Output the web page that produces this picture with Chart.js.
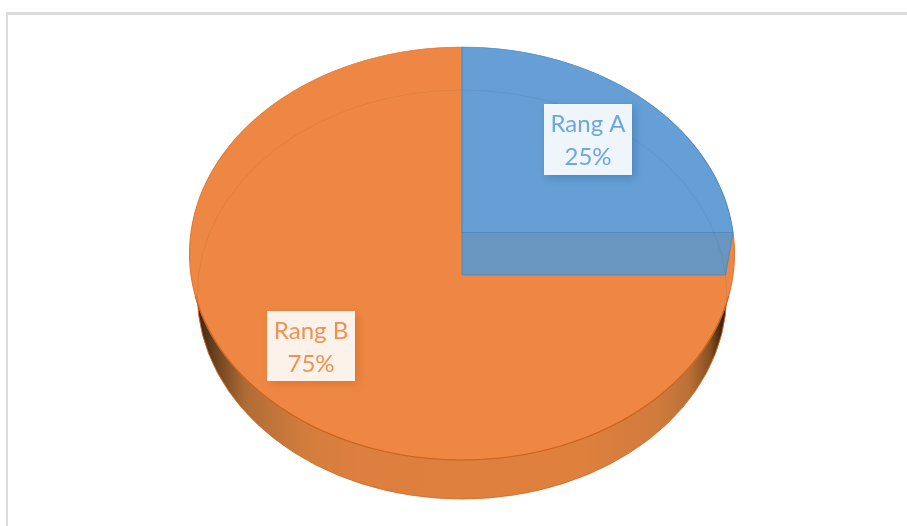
<!DOCTYPE html>
<html>
<head>
<meta charset="utf-8">
<style>
html,body{margin:0;padding:0;background:#fff;width:907px;height:526px;overflow:hidden}
#frame{position:absolute;left:6px;top:12px;width:901px;height:514px;border-top:3px solid #dcdcdc;border-left:2px solid #dcdcdc;box-sizing:border-box}
#wrap{position:absolute;left:0;top:0;width:907px;height:526px}
</style>
<script src="https://cdn.jsdelivr.net/npm/chart.js@4/dist/chart.umd.min.js"></script>
</head>
<body>
<div id="frame"></div>
<div id="wrap"><canvas id="c" width="907" height="526"></canvas></div>
<script>
const categories = ['Rang A', 'Rang B'];
const values = [25, 75];
const sliceColors = ['#659FD5', '#EE8743'];
const edgeColors = ['#4C8AC6', '#E07A36'];

// Perspective view of the disc: hub position, half width at the hub, depth behind and in front of the hub
function view(cx, cy, a, up, down) {
  const k = -(down / up - 1) / (down / up + 1);
  const b = down * (1 + k);
  const top = cy - up, bottom = cy + down;
  const ecy = (top + bottom) / 2, ery = (bottom - top) / 2;
  const erx = a / Math.sqrt(1 - Math.pow((cy - ecy) / ery, 2));
  return {cx, cy, a, k, b, top, bottom, ecy, ery, erx};
}
const topFace = view(462, 232.5, 271, 185.5, 227.5);
const baseFace = view(462, 275, 263.5, 185, 224);
const labelBoxes = [
  {x: 544, y: 104, w: 88, h: 71, color: '#6FA6DC', shadow: 'rgba(40,90,150,0.4)', line2: 53},
  {x: 267, y: 311, w: 88, h: 70, color: '#F0914F', shadow: 'rgba(190,90,20,0.4)', line2: 53}
];

const disc3d = {
  id: 'disc3d',
  beforeDatasetsDraw(chart) {
    const ctx = chart.ctx, arcs = chart.getDatasetMeta(0).data;
    const W = chart.width;
    const R = arcs[0].outerRadius, ax = arcs[0].x, ay = arcs[0].y;

    // Wall
    const g = ctx.createLinearGradient(baseFace.cx - baseFace.a, 0, baseFace.cx + baseFace.a, 0);
    g.addColorStop(0, '#3d2510');
    g.addColorStop(0.03, '#6a4020');
    g.addColorStop(0.09, '#b06c35');
    g.addColorStop(0.2, '#d27d3d');
    g.addColorStop(0.3, '#dd7f3e');
    g.addColorStop(0.72, '#e0803d');
    g.addColorStop(0.87, '#d07c3d');
    g.addColorStop(0.93, '#bb7036');
    g.addColorStop(0.97, '#8a5022');
    g.addColorStop(0.99, '#46290f');
    g.addColorStop(1, '#2e1b0a');
    ctx.beginPath();
    ctx.ellipse(baseFace.cx, baseFace.ecy, baseFace.erx, baseFace.ery, 0, 0, 2 * Math.PI);
    ctx.fillStyle = g;
    ctx.fill();
    ctx.strokeStyle = 'rgba(214,110,40,0.9)';
    ctx.lineWidth = 1;
    ctx.stroke();

    // Top face: the library's arcs, row by row through the perspective
    const f = topFace;
    for (let y = Math.floor(f.top) - 2; y < Math.ceil(f.bottom) + 2; y++) {
      const t = (y + 0.5 - f.cy) / f.b;
      const v = t / (1 - f.k * t);
      const d = 1 + f.k * v;
      ctx.save();
      ctx.beginPath();
      ctx.rect(0, y, W, 1);
      ctx.clip();
      ctx.translate(f.cx, y + 0.5);
      ctx.scale(f.a / (R * d), f.b / (R * d * d));
      ctx.translate(-ax, -(ay + v * R));
      [1, 0].forEach(i => arcs[i].draw(ctx));
      ctx.restore();
    }

    // Rim of the top face in front
    ctx.save();
    ctx.beginPath();
    ctx.rect(0, 296, W, chart.height);
    ctx.clip();
    ctx.beginPath();
    ctx.ellipse(f.cx, f.ecy, f.erx, f.ery, 0, 0, Math.PI);
    ctx.strokeStyle = '#C9641E';
    ctx.lineWidth = 1.2;
    ctx.stroke();
    ctx.restore();

    // Inner cut side of slice A
    const xEnd = Math.cos(arcs[0].endAngle);
    ctx.beginPath();
    ctx.moveTo(f.cx, f.cy);
    ctx.lineTo(f.cx + f.a * xEnd, f.cy);
    ctx.lineTo(baseFace.cx + baseFace.a * xEnd, baseFace.cy);
    ctx.lineTo(baseFace.cx, baseFace.cy);
    ctx.closePath();
    ctx.fillStyle = '#6896C1';
    ctx.fill();
    ctx.strokeStyle = '#5289BE';
    ctx.lineWidth = 1;
    ctx.stroke();

    // Back of the disc seen through the surface
    ctx.save();
    ctx.beginPath();
    ctx.rect(0, 0, W, 300);
    ctx.clip();
    ctx.beginPath();
    ctx.ellipse(baseFace.cx, baseFace.ecy, baseFace.erx, baseFace.ery, 0, 0, 2 * Math.PI);
    ctx.strokeStyle = 'rgba(70,60,70,0.1)';
    ctx.lineWidth = 1;
    ctx.stroke();
    ctx.restore();
    return false;
  },
  afterDraw(chart) {
    const ctx = chart.ctx, total = values.reduce((s, v) => s + v, 0);
    labelBoxes.forEach((b, i) => {
      // soft shadow, kept outside the translucent box
      ctx.save();
      ctx.beginPath();
      ctx.rect(0, 0, chart.width, chart.height);
      ctx.rect(b.x, b.y, b.w, b.h);
      ctx.clip('evenodd');
      ctx.shadowColor = b.shadow;
      ctx.shadowBlur = 9;
      ctx.shadowOffsetX = 3;
      ctx.shadowOffsetY = 3;
      ctx.fillStyle = '#fff';
      ctx.fillRect(b.x, b.y, b.w, b.h);
      ctx.restore();
      ctx.fillStyle = 'rgba(255,255,255,0.89)';
      ctx.fillRect(b.x, b.y, b.w, b.h);
      ctx.fillStyle = b.color;
      ctx.font = '24px Lato, "Open Sans", sans-serif';
      ctx.textAlign = 'center';
      ctx.textBaseline = 'middle';
      ctx.fillText(categories[i], b.x + b.w / 2, b.y + 20);
      ctx.fillText(Math.round(values[i] / total * 100) + '%', b.x + b.w / 2, b.y + b.line2);
    });
  }
};

new Chart(document.getElementById('c'), {
  type: 'pie',
  data: {
    labels: categories,
    datasets: [{
      data: values,
      backgroundColor: sliceColors,
      borderColor: edgeColors,
      borderWidth: 1
    }]
  },
  options: {
    responsive: false,
    animation: false,
    layout: {padding: 20},
    plugins: {legend: {display: false}, title: {display: false}, tooltip: {enabled: false}}
  },
  plugins: [disc3d]
});
</script>
</body>
</html>
